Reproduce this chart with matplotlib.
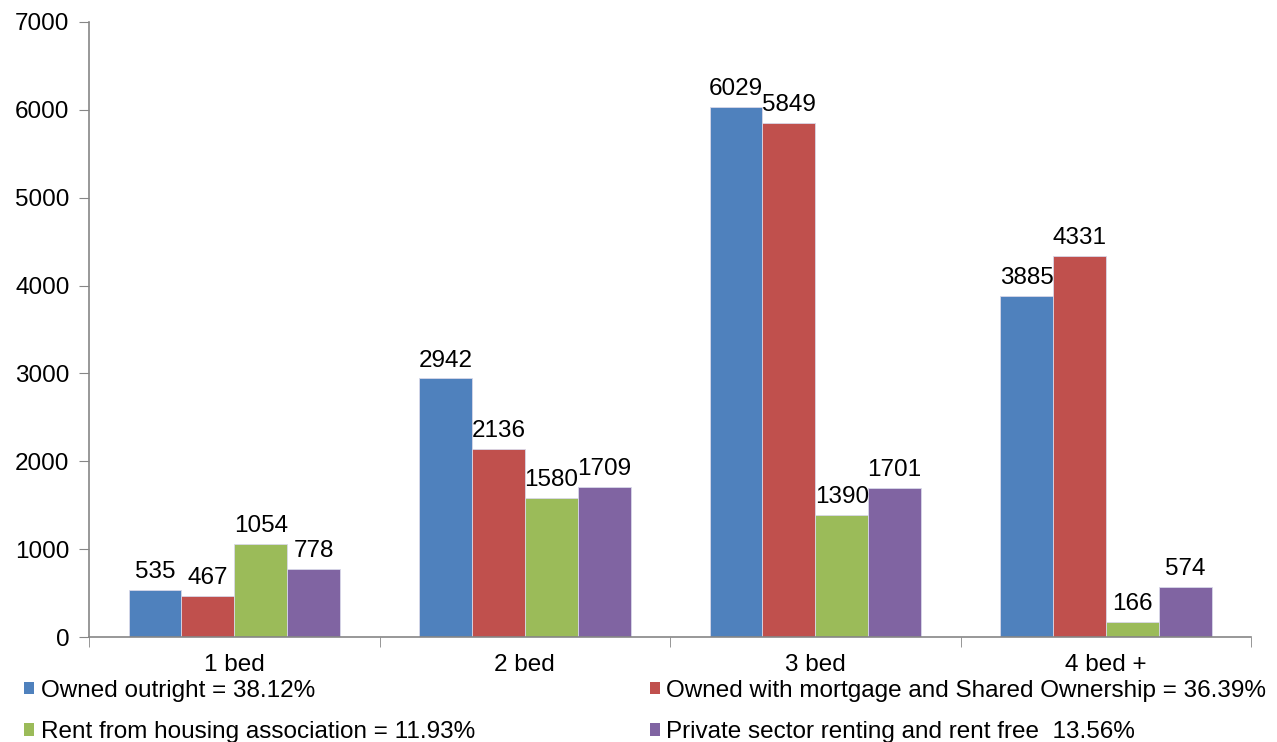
import numpy as np
import matplotlib.pyplot as plt
from matplotlib.patches import Patch

plt.rcParams['font.family'] = ['Liberation Sans', 'DejaVu Sans']

# ------------------------------------------------------------
#  Data
# ------------------------------------------------------------
categories = ['1 bed', '2 bed', '3 bed', '4 bed +']
owned_outright = [535, 2942, 6029, 3885]
owned_mortgage = [467, 2136, 5849, 4331]
rent_housing_assoc = [1054, 1580, 1390, 166]
private_rent = [778, 1709, 1701, 574]

series_labels = [
    'Owned outright = 38.12%',
    'Owned with mortgage and Shared Ownership = 36.39%',
    'Rent from housing association = 11.93%',
    'Private sector renting and rent free  13.56%',
]
colours = ['#4F81BD', '#C0504D', '#9BBB59', '#8064A2']
fs = 17.5

# ------------------------------------------------------------
#  Figure
# ------------------------------------------------------------
fig = plt.figure(figsize=(12.77, 7.42), dpi=100)
ax = fig.add_axes([0.0697, 0.1415, 0.91, 0.829])

series = [owned_outright, owned_mortgage, rent_housing_assoc, private_rent]
x = np.arange(len(categories))
w = 0.182
for i, (vals, col) in enumerate(zip(series, colours)):
    bars = ax.bar(x + (i - 1.5) * w, vals, width=w, color=col,
                  edgecolor='#d8d8e8', linewidth=0.6)
    ax.bar_label(bars, labels=[str(v) for v in vals], padding=5, fontsize=fs)

ax.set_xlim(-0.5, len(categories) - 0.5)
ax.set_ylim(0, 7000)
ax.set_yticks(np.arange(0, 7001, 1000))
ax.set_xticks(x)
ax.set_xticklabels(categories, fontsize=fs)
ax.set_xticks(np.arange(-0.5, len(categories)), minor=True)
ax.tick_params(axis='x', which='major', length=0, pad=12)
ax.tick_params(axis='x', which='minor', length=7, color='#868686', direction='out')
ax.tick_params(axis='y', labelsize=fs, length=7, color='#868686', pad=7)

for s in ['top', 'right']:
    ax.spines[s].set_visible(False)
for s in ['left', 'bottom']:
    ax.spines[s].set_color('#868686')
    ax.spines[s].set_linewidth(1.2)

# legend: two columns, filled column by column
order = [0, 2, 1, 3]
handles = [Patch(facecolor=colours[i]) for i in order]
labels = [series_labels[i] for i in order]
fig.legend(handles, labels, ncol=2, loc='upper left',
           bbox_to_anchor=(0.019, 0.084), frameon=False, fontsize=fs,
           handlelength=0.42, handleheight=0.42, handletextpad=0.25,
           columnspacing=7.2, labelspacing=0.8, borderaxespad=0,
           borderpad=0)

fig.savefig('out.png', dpi=100)
